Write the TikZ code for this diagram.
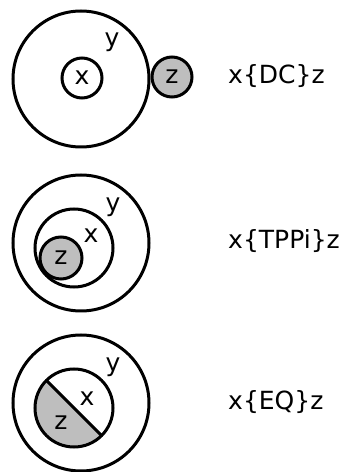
\documentclass[tikz,border=0pt]{standalone}
\usepackage{fontspec}
\setmainfont{DejaVu Sans}
\usetikzlibrary{calc}
\begin{document}
\begin{tikzpicture}[x=1pt,y=1pt,
  ring/.style={circle,draw=black,line width=3pt,inner sep=0pt,outer sep=0pt},
  bigring/.style={ring,minimum size=136pt},
  midring/.style={ring,minimum size=78pt},
  smallring/.style={ring,minimum size=40pt},
  shade/.style={fill=zgray},
  lbl/.style={inner sep=0pt,font=\fontsize{25}{30}\selectfont},
  rel/.style={lbl,anchor=base west}]
\definecolor{zgray}{RGB}{190,190,190}
\useasboundingbox (0,0) rectangle (348,472);
% Panel 1: DC
\node[bigring] (Y1) at (81,393) {};
\node[smallring] (X1) at (82,394) {};
\node[lbl] (x1) at (X1.center) {x};
\node[lbl] (y1) at (112,430) {y};
\node[smallring,shade] (Z1) at (172,395) {};
\node[lbl] (z1) at (Z1.center) {z};
\node[rel] (r1) at (228,388) {x\{DC\}z};
% Panel 2: TPPi
\node[bigring] (Y2) at (81,229) {};
\node[midring] (X2) at (74,224) {};
\node[ring,shade,minimum size=42pt] (Z2) at (61,214) {};
\node[lbl] (z2) at (Z2.center) {z};
\node[lbl] (x2) at (91,236) {x};
\node[lbl] (y2) at (113,265) {y};
\node[rel] (r2) at (228,223) {x\{TPPi\}z};
% Panel 3: EQ
\coordinate (c3) at (74,64);
\fill[zgray] ($(c3)+(135:39)$) arc[start angle=135,end angle=315,radius=39] -- cycle;
\node[bigring] (Y3) at (81,69) {};
\node[midring] (X3) at (c3) {};
\draw[line width=3pt] (X3.135) -- (X3.-45);
\node[lbl] (x3) at (87,73) {x};
\node[lbl] (z3) at (61,49) {z};
\node[lbl] (y3) at (113,105) {y};
\node[rel] (r3) at (228,62) {x\{EQ\}z};
\end{tikzpicture}
\end{document}
